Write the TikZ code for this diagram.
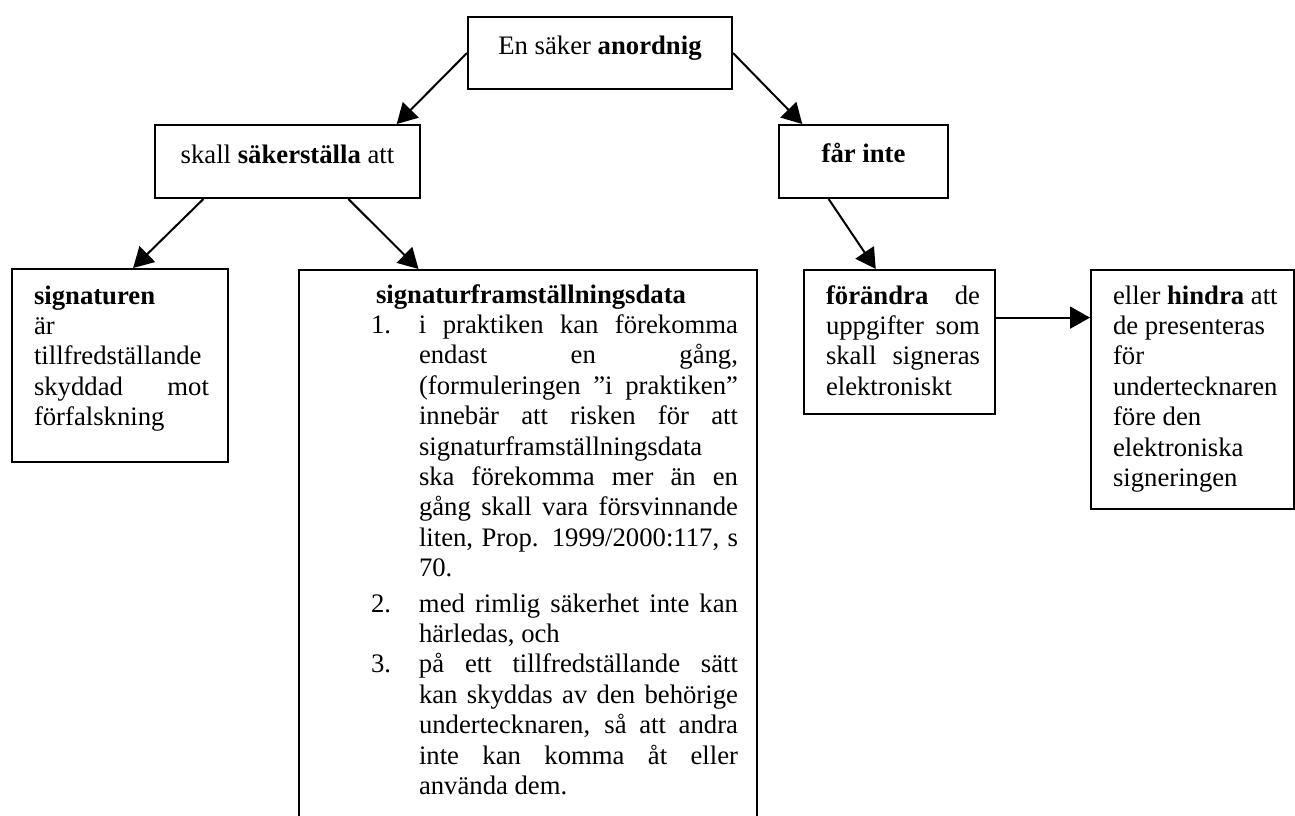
\documentclass[tikz,border=0pt]{standalone}
\usepackage{fontspec}
\setmainfont{Liberation Serif}
\usetikzlibrary{arrows.meta,calc}
\newcommand\jst[1]{\makebox[\linewidth][s]{#1}}
\begin{document}
\begin{tikzpicture}[x=0.5pt,y=-0.5pt,
  every node/.style={font=\fontsize{13.35}{15.2}\selectfont, inner sep=0pt},
  box/.style={draw, line width=1pt, anchor=north west},
  arr/.style={line width=1pt, -{Triangle[length=10pt,width=11pt]}}]
\useasboundingbox (0,0) rectangle (1295,815);
\clip (0,0) rectangle (1295,815);
\node[box, minimum width=132pt, text height=18.5pt, text depth=17.5pt] (A) at (467,16) {En säker \textbf{anordnig}};
\node[box, minimum width=132.5pt, text height=19pt, text depth=17.5pt] (B) at (154,124) {skall \textbf{säkerställa} att};
\node[box, minimum width=84.5pt, text height=18.5pt, text depth=18pt] (C) at (778,124) {\textbf{får inte}};
\node[box, minimum width=108pt, text height=17.5pt, text depth=79pt] (D) at (11,268) {\hspace*{11pt}\begin{tabular}[t]{@{}p{87.5pt}@{}}
\mbox{\textbf{signaturen}}\\
\mbox{är}\\
\mbox{tillfredställande}\\
\jst{skyddad mot}\\
\mbox{förfalskning}
\end{tabular}\hspace*{9.5pt}};
\node[box, minimum width=229pt, text height=16.5pt, text depth=264pt] (E) at (298,269) {\hspace*{36pt}\begin{tabular}[t]{@{}p{24pt}@{}p{159.5pt}@{}}
\multicolumn{2}{@{}l@{}}{\hspace*{2.5pt}\textbf{signaturframställningsdata}}\\
1. & \jst{i praktiken kan förekomma}\\
 & \jst{endast en gång,}\\
 & \jst{(formuleringen ”i praktiken”}\\
 & \jst{innebär att risken för att}\\
 & \mbox{signaturframställningsdata}\\
 & \jst{ska förekomma mer än en}\\
 & \jst{gång skall vara försvinnande}\\
 & \jst{liten, Prop. 1999/2000:117, s}\\
 & \mbox{70.}\\[2.5pt]
2. & \jst{med rimlig säkerhet inte kan}\\
 & \mbox{härledas, och}\\
3. & \jst{på ett tillfredställande sätt}\\
 & \jst{kan skyddas av den behörige}\\
 & \jst{undertecknaren, så att andra}\\
 & \jst{inte kan komma åt eller}\\
 & \mbox{använda dem.}
\end{tabular}\hspace*{9.5pt}};
\node[box, minimum width=95.5pt, text height=17pt, text depth=55pt] (F) at (803,269) {\hspace*{11pt}\begin{tabular}[t]{@{}p{77pt}@{}}
\jst{\textbf{förändra} de}\\
\jst{uppgifter som}\\
\jst{skall signeras}\\
\mbox{elektroniskt}
\end{tabular}\hspace*{7.5pt}};
\node[box, minimum width=101.5pt, text height=17pt, text depth=102.5pt] (G) at (1090,269) {\hspace*{11pt}\begin{tabular}[t]{@{}p{82.5pt}@{}}
\mbox{eller \textbf{hindra} att}\\
\mbox{de presenteras}\\
\mbox{för}\\
\mbox{undertecknaren}\\
\mbox{före den}\\
\mbox{elektroniska}\\
\mbox{signeringen}
\end{tabular}\hspace*{8pt}};
\draw[arr] (A.west) -- ($(B.north west)!0.909!(B.north east)$);
\draw[arr] (A.east) -- ($(C.north west)!0.142!(C.north east)$);
\draw[arr] ($(B.south west)!0.185!(B.south east)$) -- ($(D.north west)!0.56!(D.north east)$);
\draw[arr] ($(B.south west)!0.728!(B.south east)$) -- ($(E.north west)!0.262!(E.north east)$);
\draw[arr] ($(C.south west)!0.296!(C.south east)$) -- ($(F.north west)!0.377!(F.north east)$);
\coordinate (fg) at ($(F.north east)!0.333!(F.south east)$);
\draw[arr] (fg) -- (fg -| G.west);
\end{tikzpicture}
\end{document}
